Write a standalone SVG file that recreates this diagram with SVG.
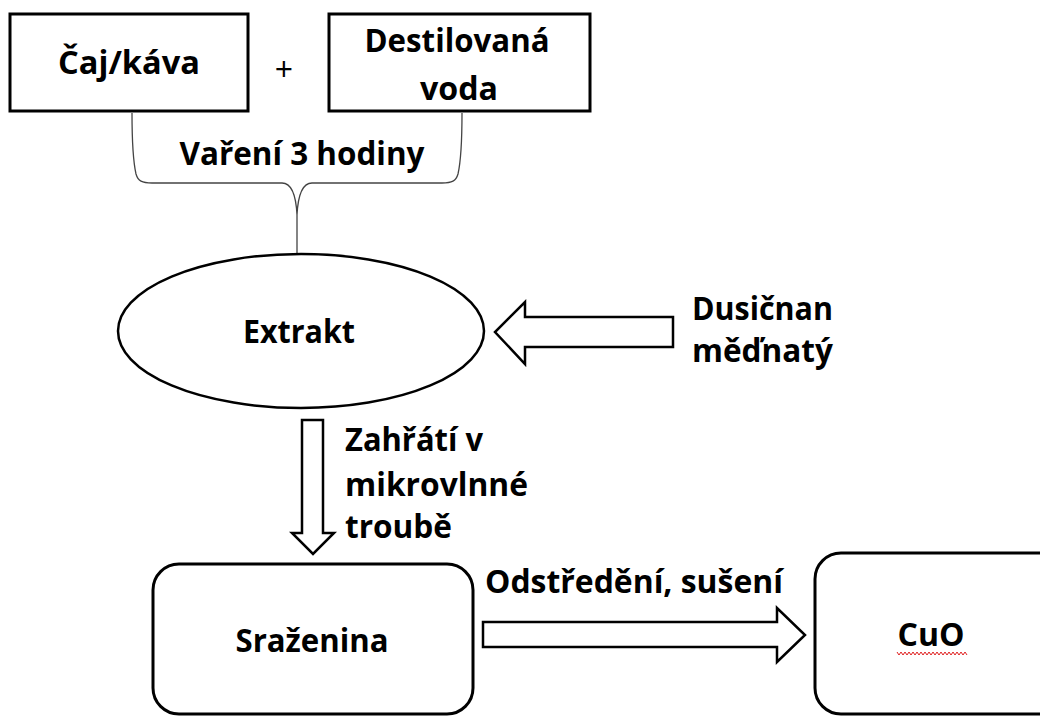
<svg xmlns="http://www.w3.org/2000/svg" width="1040" height="716" viewBox="0 0 1040 716">
<style>
  .box { fill: #fff; stroke: #000; stroke-width: 3; }
  .shape { fill: #fff; stroke: #000; stroke-width: 2.5; }
  .arrow { fill: #fff; stroke: #000; stroke-width: 2.5; stroke-linejoin: miter; }
  .brace { fill: none; stroke: #444; stroke-width: 1.3; }
  .t { font-family: "Open Sans", "Noto Sans", "DejaVu Sans", sans-serif; font-weight: bold; font-size: 32px; fill: #000; }
  .plus { font-family: "Open Sans", "DejaVu Sans", sans-serif; font-size: 32px; fill: #000; }
</style>
<rect width="1040" height="716" fill="#fff"/>

<g id="connectors">
  <path id="brace" class="brace" d="M132,113 C132,140 134,165 136,174 C138,181 142,183 152,183 L282,183 C292,183 296,195 297,215 L297,253 M462,113 C462,140 460,165 458,174 C456,181 452,183 442,183 L312,183 C302,183 298,195 297,215"/>
  <path id="arrow-dusicnan" class="arrow" d="M673,317 L525,317 L525,302 L495,332 L525,364 L525,347 L673,347 Z"/>
  <path id="arrow-zahrati" class="arrow" d="M302,420 L323,420 L323,533 L334,533 L313,554 L292,533 L302,533 Z"/>
  <path id="arrow-odstredeni" class="arrow" d="M483,622 L777,622 L777,608 L805,635 L777,662 L777,647 L483,647 Z"/>
</g>

<g id="node-caj">
  <rect class="box" x="10" y="14" width="238" height="97"/>
  <text class="t" x="129" y="74" text-anchor="middle" textLength="142" lengthAdjust="spacingAndGlyphs">Čaj/káva</text>
</g>

<g id="plus">
  <text class="plus" x="284" y="81" text-anchor="middle">+</text>
</g>

<g id="node-voda">
  <rect class="box" x="329" y="14" width="261" height="97"/>
  <text class="t" x="457" y="52" text-anchor="middle" textLength="185" lengthAdjust="spacingAndGlyphs">Destilovaná</text>
  <text class="t" x="459" y="100" text-anchor="middle" textLength="78" lengthAdjust="spacingAndGlyphs">voda</text>
</g>

<g id="label-vareni">
  <text class="t" x="302" y="165" text-anchor="middle" textLength="245" lengthAdjust="spacingAndGlyphs">Vaření 3 hodiny</text>
</g>

<g id="node-extrakt">
  <ellipse class="shape" cx="301" cy="331" rx="183" ry="77"/>
  <text class="t" x="299" y="343" text-anchor="middle" textLength="112" lengthAdjust="spacingAndGlyphs">Extrakt</text>
</g>

<g id="label-dusicnan">
  <text class="t" x="692" y="320" textLength="141" lengthAdjust="spacingAndGlyphs">Dusičnan</text>
  <text class="t" x="692" y="362" textLength="141" lengthAdjust="spacingAndGlyphs">měďnatý</text>
</g>

<g id="label-zahrati">
  <text class="t" x="345" y="451" textLength="138" lengthAdjust="spacingAndGlyphs">Zahřátí v</text>
  <text class="t" x="345" y="496" textLength="183" lengthAdjust="spacingAndGlyphs">mikrovlnné</text>
  <text class="t" x="345" y="538" textLength="107" lengthAdjust="spacingAndGlyphs">troubě</text>
</g>

<g id="node-srazenina">
  <rect class="box" x="153" y="564" width="320" height="150" rx="26" ry="26"/>
  <text class="t" x="312" y="652" text-anchor="middle" textLength="153" lengthAdjust="spacingAndGlyphs">Sraženina</text>
</g>

<g id="label-odstredeni">
  <text class="t" x="485" y="593" textLength="298" lengthAdjust="spacingAndGlyphs">Odstředění, sušení</text>
</g>

<g id="node-cuo">
  <rect class="box" x="815" y="553" width="250" height="161" rx="26" ry="26"/>
  <text class="t" x="931" y="646" text-anchor="middle" textLength="67" lengthAdjust="spacingAndGlyphs">CuO</text>
  <polyline fill="none" stroke="#e02020" stroke-width="1" points="897,652 899,655 901,652 903,655 905,652 907,655 909,652 911,655 913,652 915,655 917,652 919,655 921,652 923,655 925,652 927,655 929,652 931,655 933,652 935,655 937,652 939,655 941,652 943,655 945,652 947,655 949,652 951,655 953,652 955,655 957,652 959,655 961,652 963,655 965,652 967,655"/>
</g>
</svg>
